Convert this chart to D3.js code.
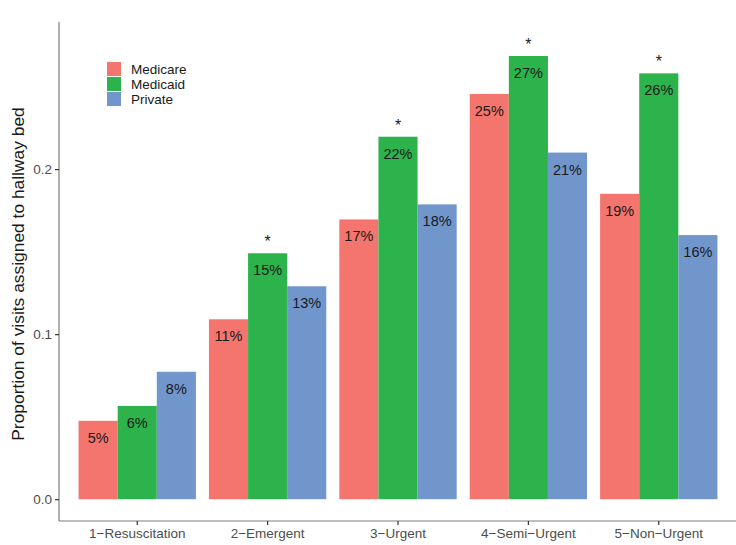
<!DOCTYPE html>
<html>
<head>
<meta charset="utf-8">
<script src="https://cdn.jsdelivr.net/npm/d3@7"></script>
<style>
  body { margin: 0; background: #fff; }
  svg { display: block; font-family: "Liberation Sans", Arial, sans-serif; }
</style>
</head>
<body>
<svg width="736" height="545"></svg>
<script>
// triage levels on the x axis
var categories = ["1\u2212Resuscitation", "2\u2212Emergent", "3\u2212Urgent", "4\u2212Semi\u2212Urgent", "5\u2212Non\u2212Urgent"];
var series = ["Medicare", "Medicaid", "Private"];

// proportion of visits assigned to a hallway bed
var medicare = [0.0475, 0.109, 0.1695, 0.2455, 0.185];
var medicaid = [0.0565, 0.149, 0.2196, 0.2685, 0.258];
var privateIns = [0.0772, 0.129, 0.1786, 0.210, 0.160];

// printed labels
var medicareLabels = ["5%", "11%", "17%", "25%", "19%"];
var medicaidLabels = ["6%", "15%", "22%", "27%", "26%"];
var privateLabels = ["8%", "13%", "18%", "21%", "16%"];

// asterisk above the Medicaid bar
var medicaidStar = [false, true, true, true, true];

var yTicks = [0, 0.1, 0.2];
var colors = ["#F4756D", "#2DB34B", "#7096CC"];

var svg = d3.select("svg");
// note: "top" is taken by window.top, so plot edges get their own names
var plotLeft = 59, plotRight = 737, plotTop = 22, plotBottom = 521;

var rows = [];
categories.forEach(function (c, i) {
  rows.push({ cat: c, s: "Medicare", v: medicare[i], label: medicareLabels[i], star: false });
  rows.push({ cat: c, s: "Medicaid", v: medicaid[i], label: medicaidLabels[i], star: medicaidStar[i] });
  rows.push({ cat: c, s: "Private", v: privateIns[i], label: privateLabels[i], star: false });
});

var x0 = d3.scaleBand().domain(categories).range([plotLeft, plotRight])
  .paddingInner(0.1).paddingOuter(0.15);
var x1 = d3.scaleBand().domain(series).range([0, x0.bandwidth()]).padding(0);
var y = d3.scaleLinear().domain([-0.0132, 0.2891]).range([plotBottom, plotTop]);
var color = d3.scaleOrdinal().domain(series).range(colors);

// bars
var g = svg.append("g");
g.selectAll("rect")
  .data(rows)
  .enter().append("rect")
  .attr("x", d => x0(d.cat) + x1(d.s))
  .attr("width", x1.bandwidth())
  .attr("y", d => y(d.v))
  .attr("height", d => y(0) - y(d.v))
  .attr("fill", d => color(d.s));

// percentage labels inside the bars
g.selectAll("text.lab")
  .data(rows)
  .enter().append("text")
  .attr("class", "lab")
  .attr("x", d => x0(d.cat) + x1(d.s) + x1.bandwidth() / 2)
  .attr("y", d => y(d.v) + 22)
  .attr("text-anchor", "middle")
  .attr("font-size", "14.5px")
  .attr("fill", "#1a1a1a")
  .text(d => d.label);

// stars
g.selectAll("text.star")
  .data(rows.filter(d => d.star))
  .enter().append("text")
  .attr("class", "star")
  .attr("x", d => x0(d.cat) + x1(d.s) + x1.bandwidth() / 2)
  .attr("y", d => y(d.v) - 6)
  .attr("text-anchor", "middle")
  .attr("font-size", "16px")
  .attr("fill", "#1a1a1a")
  .text("*");

// axes
var yAxis = svg.append("g")
  .attr("transform", "translate(" + plotLeft + ",0)")
  .call(d3.axisLeft(y).tickValues(yTicks).tickFormat(d3.format(".1f")).tickSize(4).tickPadding(3));
yAxis.select(".domain").attr("d", "M0," + plotTop + "V" + plotBottom);

var xAxis = svg.append("g")
  .attr("transform", "translate(0," + plotBottom + ")")
  .call(d3.axisBottom(x0).tickSize(4).tickPadding(3));
xAxis.select(".domain").attr("d", "M" + plotLeft + ",0H" + plotRight);

svg.selectAll(".domain").attr("stroke", "#7f7f7f").attr("stroke-width", 1.2);
svg.selectAll(".tick line").attr("stroke", "#333").attr("stroke-width", 1.2);
svg.selectAll(".tick text").attr("fill", "#4d4d4d").attr("font-size", "13.5px")
  .attr("font-family", "Liberation Sans, Arial, sans-serif");

// y axis title
svg.append("text")
  .attr("transform", "translate(24,274) rotate(-90)")
  .attr("text-anchor", "middle")
  .attr("font-size", "17.4px")
  .attr("fill", "#1a1a1a")
  .text("Proportion of visits assigned to hallway bed");

// legend
var legend = svg.append("g").attr("transform", "translate(107,62)");
series.forEach(function (s, i) {
  legend.append("rect")
    .attr("x", 0).attr("y", i * 15)
    .attr("width", 14).attr("height", 14)
    .attr("fill", color(s));
  legend.append("text")
    .attr("x", 24).attr("y", i * 15 + 12)
    .attr("font-size", "13.5px")
    .attr("fill", "#1a1a1a")
    .text(s);
});
</script>
</body>
</html>
